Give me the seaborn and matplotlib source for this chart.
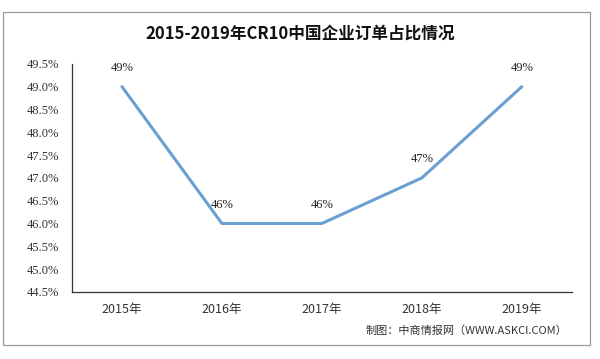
import matplotlib
matplotlib.use("Agg")
import matplotlib.pyplot as plt
import seaborn as sns
import pandas as pd
from matplotlib.patches import Rectangle

years = ["2015年", "2016年", "2017年", "2018年", "2019年"]
values = [49, 46, 46, 47, 49]
point_labels = ["49%", "46%", "46%", "47%", "49%"]
yticks = [44.5, 45.0, 45.5, 46.0, 46.5, 47.0, 47.5, 48.0, 48.5, 49.0, 49.5]
title = "2015-2019年CR10中国企业订单占比情况"
source = "制图：中商情报网（WWW.ASKCI.COM）"

sns.set_theme(style="white")
plt.rcParams['font.family'] = ['Noto Sans CJK SC', 'DejaVu Sans']

df = pd.DataFrame({"year": years, "value": values})
df["x"] = range(len(years))

fig = plt.figure(figsize=(6, 3.59), dpi=100)
ax = fig.add_axes([0.12, 0.187, 0.833, 0.635])
sns.lineplot(data=df, x="x", y="value", ax=ax, color="#6A9FD2", linewidth=2.2)

ax.set_xlim(-0.5, len(years) - 0.5)
ax.set_ylim(44.5, 49.5)
ax.set_yticks(yticks)
ax.set_yticklabels([f"{v:.1f}%" for v in yticks], fontsize=9, color="#333333",
                   family=['Liberation Serif', 'DejaVu Serif'])
ax.set_xticks(df["x"])
ax.set_xticklabels(years, fontsize=9, color="#333333")
ax.set_xlabel("")
ax.set_ylabel("")
ax.tick_params(axis="y", direction="out", length=5, width=0.8, color="#333333", pad=4)
ax.tick_params(axis="x", length=0, pad=8)
for s in ["top", "right"]:
    ax.spines[s].set_visible(False)
for s in ["left", "bottom"]:
    ax.spines[s].set_color("#333333")
    ax.spines[s].set_linewidth(0.9)

for xi, v, lab in zip(df["x"], values, point_labels):
    ax.annotate(lab, (xi, v), xytext=(0, 9), textcoords="offset points",
                ha="center", va="bottom", fontsize=9, color="#222222",
                family=['Liberation Serif', 'DejaVu Serif'])

fig.text(0.5, 0.905, title, ha="center", va="center", fontsize=12,
         fontweight="bold", color="#111111")
fig.text(0.945, 0.078, source, ha="right", va="center", fontsize=8,
         color="#333333")

fig.patches.append(Rectangle((0.005, 0.039), 0.978, 0.928, transform=fig.transFigure,
                             fill=False, edgecolor="#999999", linewidth=0.9))

fig.savefig("out.png", dpi=100)
